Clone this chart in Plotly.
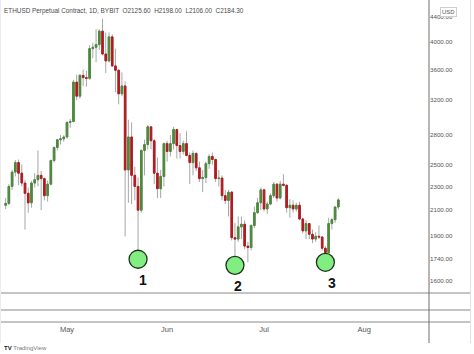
import math
import pandas as pd
import plotly.graph_objects as go

# ---------------- data (ETHUSD daily) ----------------
dates = pd.date_range("2021-04-12", "2021-07-24", freq="D")

opens = [2140, 2155, 2300, 2430, 2520, 2420, 2330, 2240, 2160, 2330, 2360, 2400, 2370, 2220, 2320, 2540, 2670, 2750, 2760,
         2780, 2940, 2950, 3430, 3250, 3520, 3490, 3480, 3900, 3920, 3960, 4170, 3820, 3720, 4080, 3650, 3590, 3280, 3380,
         2450, 2780, 2400, 2300, 2100, 2640, 2700, 2890, 2740, 2420, 2280, 2390,
         2710, 2630, 2710, 2860, 2690, 2630, 2710, 2590, 2520, 2610, 2470, 2370, 2380, 2510, 2580, 2550, 2370, 2375, 2220,
         2180, 2250, 1890, 1880, 1970, 1990, 1830, 1820, 1980, 2080, 2160,
         2270, 2110, 2150, 2220, 2320, 2200, 2320, 2310, 2120, 2140, 2110, 2140, 2030, 1940, 1995, 1915, 1880, 1900, 1895,
         1815, 1785, 1995, 2025, 2125.6]
highs = [2200, 2320, 2450, 2545, 2550, 2500, 2360, 2290, 2350, 2420, 2640, 2440, 2380, 2350, 2550, 2680, 2760, 2800, 2800,
         2950, 2980, 3460, 3530, 3540, 3600, 3580, 3950, 3990, 4200, 4200, 4370, 4150, 4150, 4120, 3900, 3600, 3560, 3440,
         2970, 2940, 2480, 2380, 2650, 2750, 2910, 2890, 2760, 2570, 2450, 2720,
         2740, 2800, 2890, 2860, 2820, 2740, 2840, 2620, 2640, 2620, 2530, 2450, 2530, 2600, 2620, 2560, 2450, 2400, 2270,
         2270, 2260, 2000, 2050, 2050, 2020, 1860, 1990, 2130, 2200, 2290,
         2280, 2170, 2240, 2340, 2330, 2350, 2410, 2320, 2190, 2180, 2160, 2170, 2040, 2020, 2000, 1950, 1930, 1980, 1900,
         1830, 2040, 2040, 2130, 2198]
lows = [2110, 2140, 2270, 2390, 2310, 2300, 1950, 2080, 2120, 2290, 2300, 2100, 2180, 2170, 2310, 2520, 2640, 2700, 2730,
        2760, 2880, 2940, 3200, 3220, 3380, 3370, 3460, 3760, 3700, 3880, 3800, 3550, 3700, 3630, 3300, 3150, 3250, 1900,
        2160, 2150, 2180, 1740, 2080, 2400, 2650, 2650, 2320, 2200, 2200, 2300,
        2530, 2580, 2650, 2560, 2560, 2600, 2580, 2320, 2400, 2440, 2340, 2250, 2330, 2460, 2500, 2340, 2300, 2180, 2150,
        2050, 1870, 1700, 1860, 1880, 1810, 1720, 1800, 1960, 2070, 2100,
        2090, 2070, 2140, 2200, 2170, 2190, 2300, 2080, 2040, 2080, 2090, 2020, 1920, 1880, 1880, 1850, 1860, 1880, 1800,
        1720, 1780, 1950, 2000, 2106]
closes = opens[1:] + [2184.3]

y_ticks = [1600, 1740, 1900, 2100, 2300, 2500, 2800, 3200, 3600, 4000, 4400]
month_ticks = ["May", "Jun", "Jul", "Aug"]
pivot_dates = ["2021-05-23", "2021-06-22", "2021-07-20"]
pivot_labels = ["1", "2", "3"]

GREEN = "#4c8a3c"
RED = "#b5191f"
WICK = "#a6a6a6"
LINE = "#8a8a8a"
W, H = 474, 354

body_hi = [max(o, c) for o, c in zip(opens, closes)]
body_lo = [min(o, c) for o, c in zip(opens, closes)]
low_map = {d.strftime("%Y-%m-%d"): l for d, l in zip(dates, lows)}
pivot_lows = [low_map[d] for d in pivot_dates]

fig = go.Figure()
# pivot circles (drawn first so the wicks pass over them)
fig.add_trace(go.Scatter(
    x=pivot_dates, y=pivot_lows, mode="markers",
    marker=dict(symbol="circle", size=18, color="#82ee82", line=dict(color="#1c331c", width=1.3)),
    showlegend=False, hoverinfo="skip"))
# wicks (grey)
fig.add_trace(go.Candlestick(
    x=dates, open=opens, high=highs, low=lows, close=closes,
    increasing=dict(line=dict(color=WICK, width=1), fillcolor=WICK),
    decreasing=dict(line=dict(color=WICK, width=1), fillcolor=WICK),
    showlegend=False, hoverinfo="skip"))
# bodies (coloured)
fig.add_trace(go.Candlestick(
    x=dates, open=opens, high=body_hi, low=body_lo, close=closes,
    increasing=dict(line=dict(color=GREEN, width=1), fillcolor=GREEN),
    decreasing=dict(line=dict(color=RED, width=1), fillcolor=RED),
    showlegend=False))

def px_x(p):
    return p / W

def px_y(p):
    return 1 - p / H

shapes = []
# pane separators / borders
for yy in [293, 310, 322]:
    shapes.append(dict(type="line", xref="paper", yref="paper", x0=0, x1=px_x(470), y0=px_y(yy), y1=px_y(yy),
                       line=dict(color=LINE, width=1)))
shapes.append(dict(type="line", xref="paper", yref="paper", x0=px_x(429), x1=px_x(429), y0=px_y(343), y1=1,
                   line=dict(color="#6f6f6f", width=1)))
shapes.append(dict(type="line", xref="paper", yref="paper", x0=px_x(470.5), x1=px_x(470.5), y0=px_y(343), y1=1,
                   line=dict(color="#e2e2e2", width=1)))
shapes.append(dict(type="line", xref="paper", yref="paper", x0=px_x(0.5), x1=px_x(0.5), y0=px_y(343), y1=1,
                   line=dict(color="#ececec", width=1)))

annotations = []
num_dx = [5, 3, 7]
for d, lab, dx in zip(pivot_dates, pivot_labels, num_dx):
    annotations.append(dict(x=d, y=math.log10(low_map[d]), xref="x", yref="y", text="<b>%s</b>" % lab,
                            showarrow=False, xshift=dx, yshift=-21,
                            font=dict(size=14, color="#111", family="Liberation Sans")))
title = ("ETHUSD Perpetual Contract, 1D, BYBIT  O%.2f  H%.2f  L%.2f  C%.2f"
         % (opens[-1], highs[-1], lows[-1], closes[-1]))
annotations.append(dict(x=px_x(2), y=px_y(11), xref="paper", yref="paper", text=title, showarrow=False,
                        xanchor="left", yanchor="middle",
                        font=dict(size=6.4, color="#4a4a4a", family="Liberation Sans")))
annotations.append(dict(x=px_x(448), y=px_y(12), xref="paper", yref="paper", text="USD", showarrow=False,
                        xanchor="center", yanchor="middle", bgcolor="white", bordercolor="#cfcfcf",
                        borderwidth=1, borderpad=1,
                        font=dict(size=6, color="#555", family="Liberation Sans")))
annotations.append(dict(x=px_x(2), y=px_y(348), xref="paper", yref="paper",
                        text="<b>TV</b> <span style='color:#777'>TradingView</span>", showarrow=False,
                        xanchor="left", yanchor="middle",
                        font=dict(size=6, color="#222", family="Liberation Sans")))

# axis ranges from pixel calibration
x_start = pd.Timestamp("2021-05-01") - pd.Timedelta(days=67 / 3.23)
x_end = pd.Timestamp("2021-05-01") + pd.Timedelta(days=362 / 3.23)
y_lo = 4000 * math.exp(-(293 - 42) / 261)
y_hi = 4000 * math.exp(42 / 261)

fig.update_layout(
    width=W, height=H, margin=dict(l=0, r=0, t=0, b=0),
    paper_bgcolor="white", plot_bgcolor="white",
    shapes=shapes, annotations=annotations, showlegend=False,
    xaxis=dict(domain=[0, px_x(429)], anchor="free", position=px_y(323),
               range=[x_start, x_end], rangeslider=dict(visible=False),
               showgrid=False, zeroline=False, showline=False, ticks="",
               tickmode="array",
               tickvals=[pd.Timestamp("2021-%02d-01" % m) for m in range(5, 9)],
               ticktext=month_ticks,
               tickfont=dict(size=7.5, color="#555", family="Liberation Sans")),
    yaxis=dict(domain=[px_y(293), 1], side="right", type="log", anchor="x",
               range=[math.log10(y_lo), math.log10(y_hi)],
               showgrid=False, zeroline=False, showline=False, ticks="",
               tickvals=y_ticks, ticktext=["%.2f" % v for v in y_ticks],
               tickfont=dict(size=6.2, color="#555", family="Liberation Sans")),
)

fig.write_html("out.html")
